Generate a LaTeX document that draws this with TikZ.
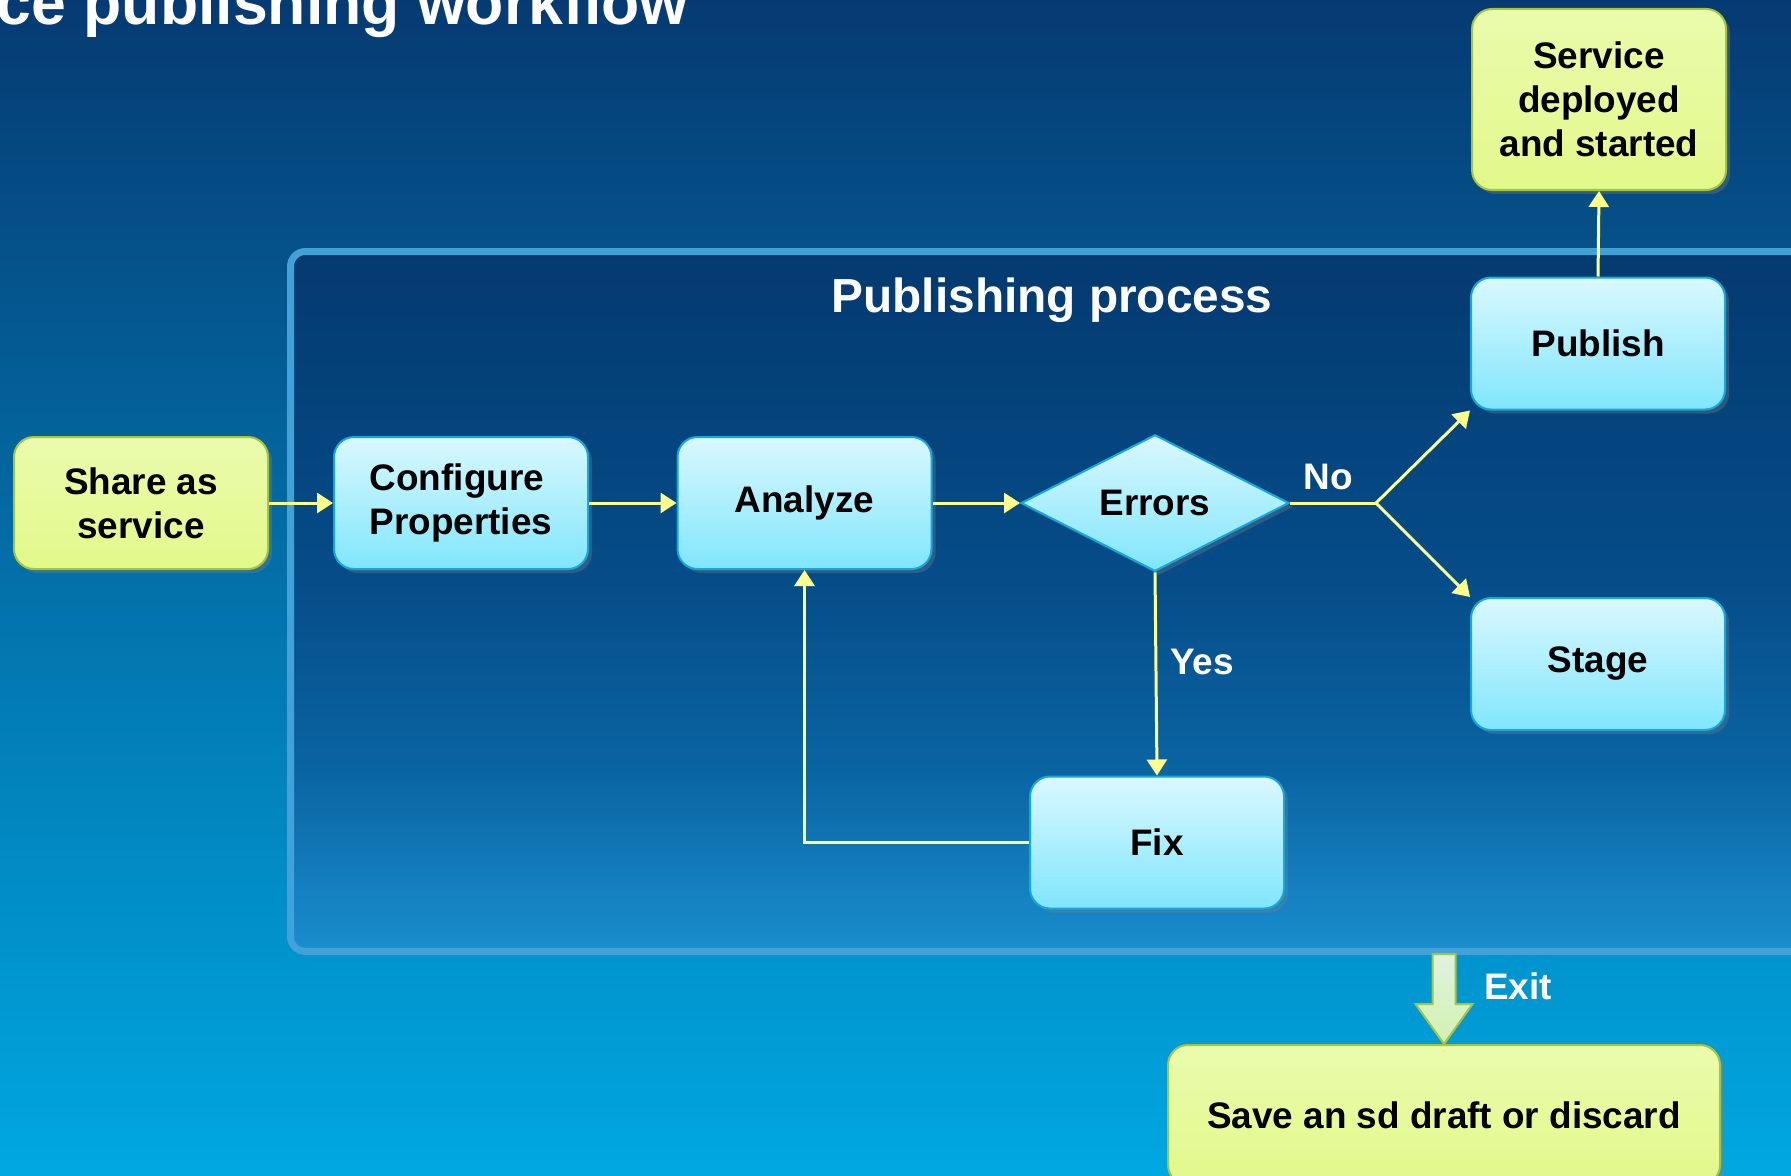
\documentclass[tikz,border=0pt]{standalone}
\usepackage{fontspec}
\setmainfont{Liberation Sans}
\usetikzlibrary{shapes.geometric,arrows.meta,shadows}
\definecolor{bgtop}{HTML}{063A72}
\definecolor{bgmid}{HTML}{0368AE}
\definecolor{bgbot}{HTML}{00A8E2}
\definecolor{proctop}{HTML}{043A70}
\definecolor{procmid}{HTML}{054C88}
\definecolor{proclow}{HTML}{0A64A2}
\definecolor{procbot}{HTML}{1A8ECE}
\definecolor{procedge}{HTML}{42A2D8}
\definecolor{boxtop}{HTML}{DAF8FF}
\definecolor{boxbot}{HTML}{80E6FC}
\definecolor{boxedge}{HTML}{13A8DF}
\definecolor{greenfill}{HTML}{E2F98A}
\definecolor{greenedge}{HTML}{A6C43C}
\definecolor{flowline}{HTML}{FFFF8C}
\pgfdeclareverticalshading{procshade}{100bp}{color(0bp)=(procbot); color(25bp)=(procbot); color(38bp)=(proclow); color(52bp)=(procmid); color(75bp)=(proctop); color(100bp)=(proctop)}

\begin{document}
\begin{tikzpicture}
	\tikzstyle{every node}+=[inner sep=0pt]
	\tikzstyle{boxfont}=[font=\fontsize{10.5}{12.6}\selectfont\bfseries]
	\tikzstyle{bluebox}=[boxfont, rectangle, rounded corners=0.2cm, draw=boxedge, line width=0.02cm, top color=boxtop, bottom color=boxbot, minimum width=2.54cm, minimum height=1.32cm, align=center, drop shadow={shadow xshift=0.04cm, shadow yshift=-0.04cm, opacity=0.35}]
	\tikzstyle{greenbox}=[bluebox, draw=greenedge, top color=greenfill!70!white, bottom color=greenfill]
	\tikzstyle{decision}=[boxfont, diamond, draw=boxedge, line width=0.02cm, top color=boxtop, bottom color=boxbot, minimum width=2.68cm, minimum height=1.31cm, drop shadow={shadow xshift=0.04cm, shadow yshift=-0.04cm, opacity=0.35}]
	\tikzstyle{flow}=[draw=flowline, line width=0.03cm, -{Triangle[length=0.16cm, width=0.2cm]}]
	\tikzstyle{lbl}=[boxfont, text=white]
	\useasboundingbox (0,0) rectangle (17.91,-11.75);
	\shade[top color=bgtop, middle color=bgmid, bottom color=bgbot] (0,0) rectangle (17.91,-11.75);
	\node[anchor=base west, text=white, font=\fontsize{17.8}{20}\selectfont\bfseries] (title) at (-0.04,-0.25) {ce publishing workflow};
	\node[rectangle, rounded corners=0.15cm, draw=procedge, line width=0.07cm, shading=procshade, minimum width=15.3cm, minimum height=7cm] (procbox) at (10.555,-6.015) {};
	\node[text=white, font=\fontsize{13.6}{16}\selectfont\bfseries] (proctitle) at (10.52,-3.0) {Publishing process};
	\node[greenbox] (share) at (1.41,-5.03) {Share as\\service};
	\node[bluebox, align=left] (config) at (4.61,-5.03) {Configure\\Properties};
	\node[bluebox] (analyze) at (8.045,-5.03) {Analyze};
	\node[decision] (errors) at (11.55,-5.03) {Errors};
	\node[bluebox] (publish) at (15.98,-3.435) {Publish};
	\node[bluebox] (stage) at (15.98,-6.64) {Stage};
	\node[bluebox] (fix) at (11.57,-8.425) {Fix};
	\node[greenbox, minimum height=1.81cm] (service) at (15.99,-0.995) {Service\\deployed\\and started};
	\node[greenbox, minimum width=5.52cm, minimum height=1.4cm] (save) at (14.44,-11.15) {Save an sd draft or discard};
	\coordinate (split) at (13.76,-5.03);
	\draw[flow] (share) -- (config);
	\draw[flow] (config) -- (analyze);
	\draw[flow] (analyze) -- (errors);
	\draw[draw=flowline, line width=0.03cm] (errors.east) -- (split);
	\draw[flow] (split) -- (publish.south west);
	\draw[flow] (split) -- (stage.north west);
	\draw[flow] (errors.south) -- (fix.north);
	\draw[flow] (fix.west) -| (analyze.south);
	\draw[flow] (publish.north) -- (service.south);
	\draw[draw=greenedge, line width=0.02cm, top color=greenfill!25!white, bottom color=greenfill!70!white, fill opacity=0.9] (save.north) -- ++(0.285,0.4) -- ++(-0.17,0) -- ++(0,0.5) -- ++(-0.23,0) -- ++(0,-0.5) -- ++(-0.17,0) -- cycle;
	\node[lbl] (nolbl) at (13.28,-4.77) {No};
	\node[lbl] (yeslbl) at (12.02,-6.62) {Yes};
	\node[lbl] (exitlbl) at (15.18,-9.86) {Exit};
\end{tikzpicture}
\end{document}
